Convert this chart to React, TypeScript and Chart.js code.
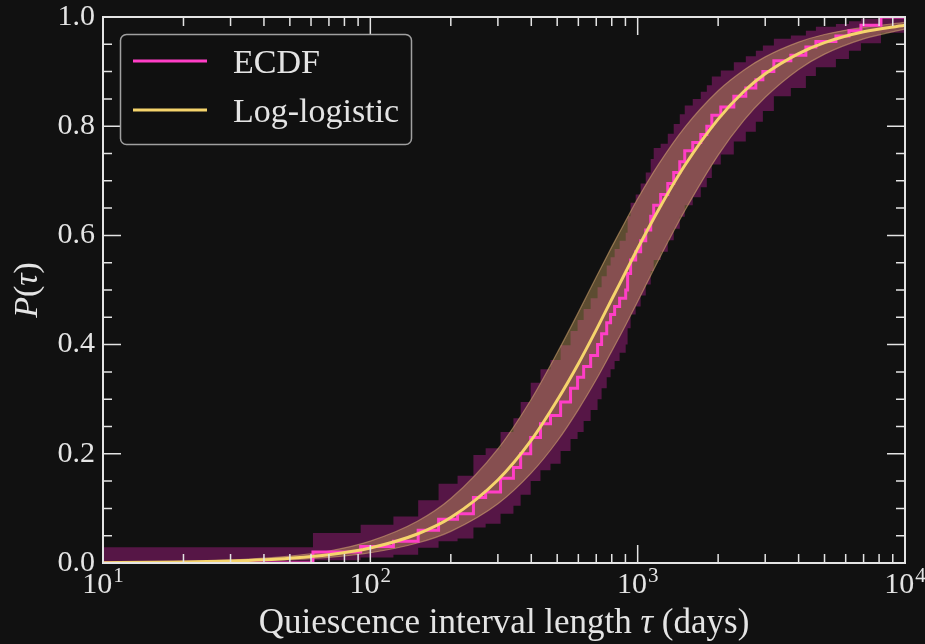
import React, { useEffect, useRef } from "react";
import { Chart, registerables } from "chart.js";

Chart.register(...registerables);

// ---------- data ----------
// ECDF: interval length (days) where the ECDF jumps, and the value after the jump
const ecdfDays = [10, 61, 92, 122, 151, 180, 212, 243, 270, 307, 343, 365, 398, 433, 472, 515, 561, 596, 628, 667, 708, 733, 766, 792, 820, 856, 902, 917, 941, 983, 1026, 1072, 1119, 1148, 1219, 1296, 1364, 1437, 1500, 1607, 1722, 1814, 1894, 2046, 2289, 2538, 2767, 2940, 3232, 3741, 4258, 4642, 5515, 6171, 6842, 8130, 10000];
const ecdfP = [0, 0.02, 0.03, 0.04, 0.06, 0.08, 0.09, 0.12, 0.13, 0.155, 0.175, 0.2, 0.23, 0.255, 0.27, 0.295, 0.32, 0.34, 0.36, 0.38, 0.4, 0.42, 0.44, 0.455, 0.47, 0.485, 0.5, 0.53, 0.555, 0.57, 0.59, 0.61, 0.635, 0.655, 0.675, 0.695, 0.715, 0.735, 0.755, 0.77, 0.785, 0.8, 0.82, 0.835, 0.855, 0.87, 0.885, 0.9, 0.92, 0.93, 0.945, 0.955, 0.965, 0.975, 0.985, 1.0, 1.0];
const ecdfLow = [0.0, 0.005, 0.01, 0.015, 0.028, 0.04, 0.045, 0.065, 0.072, 0.09, 0.105, 0.125, 0.15, 0.17, 0.182, 0.205, 0.227, 0.24, 0.26, 0.28, 0.3, 0.32, 0.34, 0.355, 0.37, 0.385, 0.4, 0.43, 0.455, 0.47, 0.49, 0.51, 0.535, 0.555, 0.57, 0.591, 0.612, 0.634, 0.655, 0.67, 0.688, 0.705, 0.73, 0.748, 0.772, 0.79, 0.808, 0.828, 0.855, 0.87, 0.892, 0.908, 0.923, 0.938, 0.952, 0.971, 0.971];
const ecdfHigh = [0.029, 0.055, 0.07, 0.085, 0.115, 0.145, 0.16, 0.198, 0.21, 0.24, 0.265, 0.295, 0.33, 0.355, 0.372, 0.399, 0.425, 0.445, 0.465, 0.485, 0.505, 0.525, 0.545, 0.56, 0.575, 0.59, 0.605, 0.635, 0.66, 0.675, 0.695, 0.715, 0.74, 0.76, 0.768, 0.786, 0.804, 0.822, 0.838, 0.85, 0.863, 0.875, 0.891, 0.902, 0.917, 0.928, 0.938, 0.948, 0.96, 0.966, 0.975, 0.982, 0.987, 0.992, 0.997, 1.0, 1.0];

// Log-logistic fit and its band
const llDays = [10, 15, 20, 30, 40, 50, 70, 100, 150, 200, 300, 400, 500, 600, 700, 800, 900, 1000, 1200, 1500, 2000, 2500, 3000, 4000, 5000, 7000, 10000];
const llP = [0.0006, 0.0012, 0.0019, 0.0037, 0.006, 0.0088, 0.0153, 0.0276, 0.0531, 0.0832, 0.152, 0.225, 0.298, 0.365, 0.427, 0.483, 0.532, 0.576, 0.648, 0.728, 0.813, 0.864, 0.896, 0.933, 0.953, 0.973, 0.985];
const llLow = [0.0004, 0.0008, 0.0013, 0.0025, 0.0041, 0.006, 0.0104, 0.0188, 0.0366, 0.058, 0.1085, 0.165, 0.223, 0.281, 0.336, 0.388, 0.435, 0.479, 0.556, 0.645, 0.747, 0.811, 0.853, 0.904, 0.932, 0.96, 0.978];
const llHigh = [0.0009, 0.0017, 0.0028, 0.0055, 0.0088, 0.0127, 0.022, 0.0401, 0.0764, 0.118, 0.209, 0.3, 0.385, 0.459, 0.524, 0.579, 0.626, 0.667, 0.731, 0.798, 0.865, 0.903, 0.927, 0.954, 0.968, 0.981, 0.99];

// axes / labels
const xDecades = [10, 100, 1000, 10000];
const xExponents = ["1", "2", "3", "4"];
const xMinorMultipliers = [2, 3, 4, 5, 6, 7, 8, 9];
const yMajorStep = 0.2;
const yMinorStep = 0.05;
const legendLabels = ["ECDF", "Log-logistic"];
const xTitleParts = [
  { t: "Quiescence interval length ", it: false },
  { t: "\u03C4", it: true },
  { t: " (days)", it: false },
];
const yTitleParts = [
  { t: "P", it: true },
  { t: "(", it: false },
  { t: "\u03C4", it: true },
  { t: ")", it: false },
];

// ---------- styles ----------
const FONT = "'Liberation Serif', 'Times New Roman', serif";
const BG = "#111111";
const FG = "#e4e4e4";
const MAGENTA = "#ff3ec6";
const YELLOW = "#f5d46c";
const ECDF_BAND = "rgba(190, 30, 150, 0.4)";
const LL_BAND = "rgba(200, 160, 95, 0.42)";
const LL_EDGE = "rgba(215, 170, 115, 0.55)";

function pts(xs: number[], ys: number[]) {
  return xs.map((x, i) => ({ x, y: ys[i] }));
}

function drawParts(ctx: CanvasRenderingContext2D, parts: { t: string; it: boolean }[], size: number, cx: number, baseline: number) {
  const fonts = parts.map((p) => `${p.it ? "italic " : ""}${size}px ${FONT}`);
  let total = 0;
  const widths = parts.map((p, i) => {
    ctx.font = fonts[i];
    const w = ctx.measureText(p.t).width;
    total += w;
    return w;
  });
  let x = cx - total / 2;
  parts.forEach((p, i) => {
    ctx.font = fonts[i];
    ctx.fillText(p.t, x, baseline);
    x += widths[i];
  });
}

const decorPlugin = {
  id: "decor",
  beforeDraw(chart: any) {
    const { ctx, width, height } = chart;
    ctx.save();
    ctx.fillStyle = BG;
    ctx.fillRect(0, 0, width, height);
    ctx.restore();
  },
  afterDraw(chart: any) {
    const { ctx, chartArea: a, scales } = chart;
    const xs = scales.x;
    const ys = scales.y;
    ctx.save();

    // ticks (inward, all four sides)
    ctx.strokeStyle = FG;
    ctx.lineWidth = 1.5;
    const MAJ = 18;
    const MIN = 9;
    ctx.beginPath();
    xDecades.forEach((d, i) => {
      const px = xs.getPixelForValue(d);
      ctx.moveTo(px, a.bottom);
      ctx.lineTo(px, a.bottom - MAJ);
      ctx.moveTo(px, a.top);
      ctx.lineTo(px, a.top + MAJ);
      if (i < xDecades.length - 1) {
        xMinorMultipliers.forEach((k) => {
          const mx = xs.getPixelForValue(k * d);
          ctx.moveTo(mx, a.bottom);
          ctx.lineTo(mx, a.bottom - MIN);
          ctx.moveTo(mx, a.top);
          ctx.lineTo(mx, a.top + MIN);
        });
      }
    });
    const nMinor = Math.round(1 / yMinorStep);
    const ratio = Math.round(yMajorStep / yMinorStep);
    for (let i = 0; i <= nMinor; i++) {
      const py = ys.getPixelForValue(i * yMinorStep);
      const len = i % ratio === 0 ? MAJ : MIN;
      ctx.moveTo(a.left, py);
      ctx.lineTo(a.left + len, py);
      ctx.moveTo(a.right, py);
      ctx.lineTo(a.right - len, py);
    }
    ctx.stroke();

    // frame
    ctx.lineWidth = 2;
    ctx.strokeRect(a.left, a.top, a.right - a.left, a.bottom - a.top);

    // x tick labels 10^n
    ctx.fillStyle = FG;
    ctx.textBaseline = "alphabetic";
    ctx.textAlign = "left";
    xDecades.forEach((d, i) => {
      const px = xs.getPixelForValue(d);
      ctx.font = `30px ${FONT}`;
      const w1 = ctx.measureText("10").width;
      ctx.font = `21px ${FONT}`;
      const w2 = ctx.measureText(xExponents[i]).width;
      const left = px - (w1 + w2 + 1) / 2;
      ctx.font = `30px ${FONT}`;
      ctx.fillText("10", left, a.bottom + 30);
      ctx.font = `21px ${FONT}`;
      ctx.fillText(xExponents[i], left + w1 + 1, a.bottom + 19);
    });

    // axis titles
    drawParts(ctx, xTitleParts, 35, (a.left + a.right) / 2, 633);
    ctx.save();
    ctx.translate(37, (a.top + a.bottom) / 2);
    ctx.rotate(-Math.PI / 2);
    drawParts(ctx, yTitleParts, 34, 0, 0);
    ctx.restore();

    // legend
    const lx = 120.5, ly = 34.5, lw = 291, lh = 110;
    ctx.beginPath();
    ctx.roundRect(lx, ly, lw, lh, 6);
    ctx.fillStyle = "rgba(17,17,17,0.85)";
    ctx.fill();
    ctx.strokeStyle = "#a0a0a0";
    ctx.lineWidth = 1.5;
    ctx.stroke();
    const colors = [MAGENTA, YELLOW];
    legendLabels.forEach((lab, i) => {
      const yy = 61 + i * 49;
      ctx.strokeStyle = colors[i];
      ctx.lineWidth = 3;
      ctx.beginPath();
      ctx.moveTo(133, yy);
      ctx.lineTo(207, yy);
      ctx.stroke();
      ctx.fillStyle = FG;
      ctx.font = `34px ${FONT}`;
      ctx.fillText(lab, 233, yy + 12);
    });

    ctx.restore();
  },
};

export default function App() {
  const ref = useRef<HTMLCanvasElement>(null);
  useEffect(() => {
    if (!ref.current) return;
    const chart = new Chart(ref.current, {
      type: "line",
      data: {
        datasets: [
          {
            label: "Log-logistic",
            data: pts(llDays, llP),
            borderColor: YELLOW,
            borderWidth: 3,
            pointRadius: 0,
            cubicInterpolationMode: "monotone",
            fill: false,
            order: 0,
          },
          {
            label: "ECDF",
            data: pts(ecdfDays, ecdfP),
            borderColor: MAGENTA,
            borderWidth: 3,
            pointRadius: 0,
            stepped: "before",
            fill: false,
            order: 1,
          },
          {
            label: "llLow",
            data: pts(llDays, llLow),
            borderColor: LL_EDGE,
            borderWidth: 1.2,
            pointRadius: 0,
            cubicInterpolationMode: "monotone",
            fill: false,
            order: 2,
          },
          {
            label: "llHigh",
            data: pts(llDays, llHigh),
            borderColor: LL_EDGE,
            borderWidth: 1.2,
            backgroundColor: LL_BAND,
            pointRadius: 0,
            cubicInterpolationMode: "monotone",
            fill: "-1",
            order: 2,
          },
          {
            label: "ecdfLow",
            data: pts(ecdfDays, ecdfLow),
            borderColor: "rgba(0,0,0,0)",
            borderWidth: 0,
            pointRadius: 0,
            stepped: "before",
            fill: false,
            order: 3,
          },
          {
            label: "ecdfHigh",
            data: pts(ecdfDays, ecdfHigh),
            borderColor: "rgba(0,0,0,0)",
            borderWidth: 0,
            backgroundColor: ECDF_BAND,
            pointRadius: 0,
            stepped: "before",
            fill: "-1",
            order: 3,
          },
        ],
      },
      options: {
        animation: false,
        responsive: false,
        events: [],
        layout: { padding: { top: 17, right: 20, left: 0, bottom: 0 } },
        plugins: {
          legend: { display: false },
          tooltip: { enabled: false },
        },
        scales: {
          x: {
            type: "logarithmic",
            min: 10,
            max: 10000,
            ticks: { display: false },
            grid: { display: false, drawTicks: false },
            border: { display: false },
            afterFit: (s: any) => {
              s.height = 81;
              s.paddingLeft = 0;
              s.paddingRight = 0;
            },
          },
          y: {
            type: "linear",
            min: 0,
            max: 1,
            ticks: {
              stepSize: yMajorStep,
              callback: (v: any) => Number(v).toFixed(1),
              color: FG,
              font: { family: FONT, size: 30 },
              padding: 8,
            },
            grid: { display: false, drawTicks: false },
            border: { display: false },
            afterFit: (s: any) => {
              s.width = 103;
              s.paddingTop = 0;
              s.paddingBottom = 0;
            },
          },
        },
      },
      plugins: [decorPlugin],
    } as any);
    return () => chart.destroy();
  }, []);
  return (
    <div style={{ position: "fixed", left: 0, top: 0, width: 925, height: 644, background: BG }}>
      <canvas ref={ref} width={925} height={644} style={{ display: "block" }} />
    </div>
  );
}
